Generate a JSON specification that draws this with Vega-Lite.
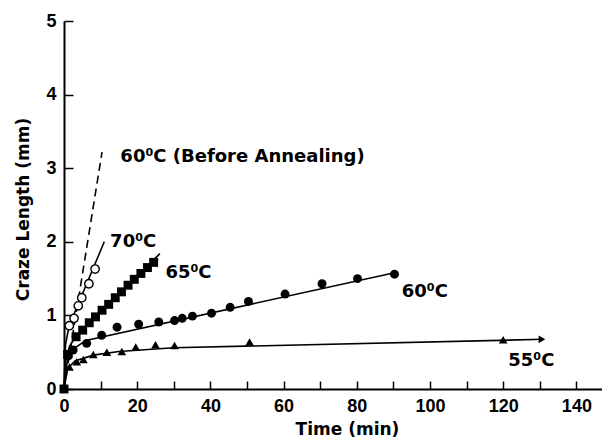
{
  "$schema": "https://vega.github.io/schema/vega-lite/v6.json",
  "width": 538,
  "height": 368,
  "autosize": {"type": "none"},
  "padding": {"left": 64, "top": 21, "right": 0, "bottom": 50},
  "background": "white",
  "config": {
    "view": {"stroke": null},
    "font": "Liberation Sans",
    "axis": {
      "domainColor": "black",
      "domainWidth": 2,
      "tickColor": "black",
      "tickWidth": 1.5,
      "grid": false,
      "labelColor": "black",
      "labelFont": "Liberation Sans",
      "labelFontSize": 18,
      "labelFontWeight": "bold",
      "titleColor": "black",
      "titleFont": "DejaVu Sans",
      "titleFontSize": 17,
      "titleFontWeight": "bold"
    }
  },
  "datasets": {
    "fits": [
      {"s": "70", "t": 0, "L": 0},
      {"s": "70", "t": 0.4, "L": 0.6},
      {"s": "70", "t": 1.4, "L": 0.86},
      {"s": "70", "t": 11, "L": 2.0},
      {"s": "65", "t": 0, "L": 0},
      {"s": "65", "t": 0.5, "L": 0.4},
      {"s": "65", "t": 1.5, "L": 0.58},
      {"s": "65", "t": 3.3, "L": 0.72},
      {"s": "65", "t": 26.2, "L": 1.84},
      {"s": "60", "t": 0, "L": 0},
      {"s": "60", "t": 1, "L": 0.42},
      {"s": "60", "t": 3, "L": 0.56},
      {"s": "60", "t": 6, "L": 0.66},
      {"s": "60", "t": 90.3, "L": 1.58},
      {"s": "55", "t": 0, "L": 0},
      {"s": "55", "t": 1, "L": 0.28},
      {"s": "55", "t": 3, "L": 0.38},
      {"s": "55", "t": 8, "L": 0.46},
      {"s": "55", "t": 15, "L": 0.51},
      {"s": "55", "t": 30, "L": 0.56},
      {"s": "55", "t": 131, "L": 0.675}
    ],
    "before": [
      {"t": 0, "L": 0},
      {"t": 10.4, "L": 3.22}
    ],
    "c70": [
      {"t": 1.46, "L": 0.86},
      {"t": 2.75, "L": 0.96},
      {"t": 3.9, "L": 1.13},
      {"t": 4.86, "L": 1.24},
      {"t": 6.8, "L": 1.43},
      {"t": 8.5, "L": 1.63}
    ],
    "s65": [
      {"t": 0, "L": 0},
      {"t": 1.0, "L": 0.47},
      {"t": 3.3, "L": 0.71},
      {"t": 5.1, "L": 0.8},
      {"t": 6.9, "L": 0.9},
      {"t": 8.6, "L": 0.98},
      {"t": 10.4, "L": 1.07},
      {"t": 12.2, "L": 1.15},
      {"t": 14.0, "L": 1.24},
      {"t": 15.7, "L": 1.32},
      {"t": 17.5, "L": 1.41},
      {"t": 19.2, "L": 1.49},
      {"t": 21.0, "L": 1.57},
      {"t": 22.8, "L": 1.65},
      {"t": 24.5, "L": 1.72}
    ],
    "c60": [
      {"t": 1.2, "L": 0.45},
      {"t": 2.5, "L": 0.53},
      {"t": 6.2, "L": 0.62},
      {"t": 10.3, "L": 0.73},
      {"t": 14.5, "L": 0.84},
      {"t": 20.4, "L": 0.88},
      {"t": 25.9, "L": 0.91},
      {"t": 30.2, "L": 0.93},
      {"t": 32.3, "L": 0.96},
      {"t": 35.1, "L": 0.99},
      {"t": 40.3, "L": 1.03},
      {"t": 45.4, "L": 1.11},
      {"t": 50.4, "L": 1.19},
      {"t": 60.4, "L": 1.29},
      {"t": 70.5, "L": 1.43},
      {"t": 80.2, "L": 1.5},
      {"t": 90.3, "L": 1.56}
    ],
    "t55": [
      {"t": 1.5, "L": 0.3},
      {"t": 3.5, "L": 0.37},
      {"t": 5.3, "L": 0.4},
      {"t": 8.0, "L": 0.47},
      {"t": 11.7, "L": 0.5},
      {"t": 15.8, "L": 0.51},
      {"t": 19.6, "L": 0.57},
      {"t": 25.0, "L": 0.6},
      {"t": 30.2, "L": 0.59},
      {"t": 50.7, "L": 0.64},
      {"t": 120, "L": 0.67}
    ],
    "arrow": [
      {"t": 130.6, "L": 0.675}
    ],
    "labels": [
      {"t": 15.4, "L": 3.15, "label": "60⁰C (Before Annealing)"},
      {"t": 12.6, "L": 2.0, "label": "70⁰C"},
      {"t": 27.7, "L": 1.58, "label": "65⁰C"},
      {"t": 92.3, "L": 1.32, "label": "60⁰C"},
      {"t": 121.4, "L": 0.38, "label": "55⁰C"}
    ]
  },
  "encoding": {
    "x": {
      "field": "t",
      "type": "quantitative",
      "scale": {"domain": [0, 147], "nice": false, "zero": false},
      "axis": {
        "values": [0, 10, 20, 30, 40, 50, 60, 70, 80, 90, 100, 110, 120, 130, 140],
        "labelExpr": "datum.value % 20 === 0 ? datum.label : ''",
        "tickSize": -8,
        "labelPadding": 16,
        "labelFlush": false,
        "labelOverlap": false,
        "title": "Time (min)",
        "titleX": 283,
        "titleY": 45,
        "titleAnchor": null,
        "titleAlign": "center",
        "titleBaseline": "alphabetic"
      }
    },
    "y": {
      "field": "L",
      "type": "quantitative",
      "scale": {"domain": [0, 5], "nice": false},
      "axis": {
        "values": [0, 1, 2, 3, 4, 5],
        "tickSize": -9,
        "labelPadding": 17,
        "title": "Craze Length (mm)",
        "titleX": -36,
        "titleY": 188,
        "titleAngle": -90,
        "titleAlign": "center",
        "titleBaseline": "alphabetic"
      }
    }
  },
  "layer": [
    {
      "data": {"name": "fits"},
      "mark": {"type": "line", "color": "black", "strokeWidth": 1.6},
      "encoding": {"detail": {"field": "s", "type": "nominal"}}
    },
    {
      "data": {"name": "before"},
      "mark": {"type": "line", "color": "black", "strokeWidth": 1.6, "strokeDash": [8, 5]},
      "encoding": {}
    },
    {
      "data": {"name": "c60"},
      "mark": {"type": "point", "shape": "circle", "filled": true, "color": "black", "size": 80, "opacity": 1}
    },
    {
      "data": {"name": "s65"},
      "mark": {"type": "point", "shape": "square", "filled": true, "color": "black", "size": 80, "opacity": 1}
    },
    {
      "data": {"name": "t55"},
      "mark": {"type": "point", "shape": "triangle-up", "filled": true, "color": "black", "size": 75, "opacity": 1}
    },
    {
      "data": {"name": "c70"},
      "mark": {"type": "point", "shape": "circle", "filled": true, "fill": "white", "stroke": "black", "strokeWidth": 1.4, "size": 70, "opacity": 1}
    },
    {
      "data": {"name": "arrow"},
      "mark": {"type": "point", "shape": "triangle-right", "filled": true, "color": "black", "size": 60, "opacity": 1}
    },
    {
      "data": {"name": "labels"},
      "mark": {"type": "text", "align": "left", "baseline": "middle", "fontSize": 18, "fontWeight": "bold", "font": "DejaVu Sans", "color": "black"},
      "encoding": {"text": {"field": "label", "type": "nominal"}}
    }
  ]
}
